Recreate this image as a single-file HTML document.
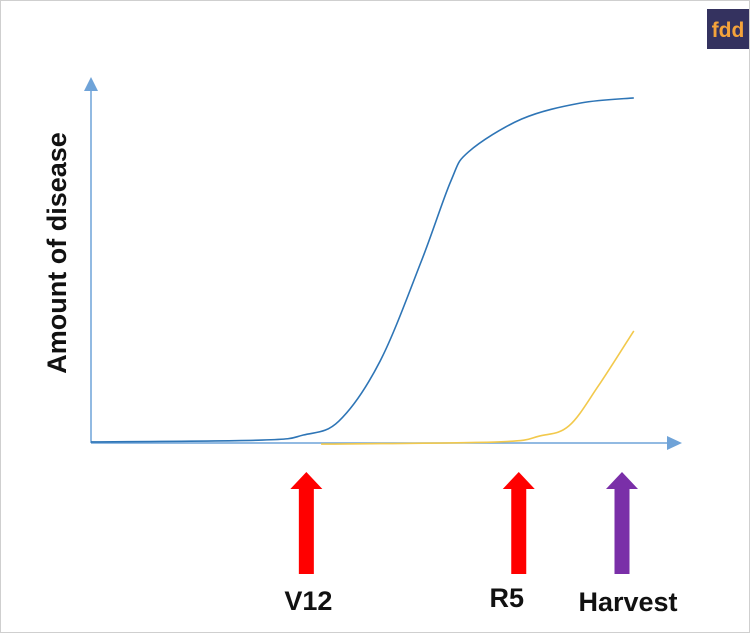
<!DOCTYPE html>
<html><head><meta charset="utf-8"><style>
html,body{margin:0;padding:0;background:#fff}
#wrap{position:relative;width:750px;height:633px;overflow:hidden;box-sizing:border-box;border:1px solid #cfcfcf}
text{font-family:"Liberation Sans",Arial,sans-serif}
</style></head><body>
<div id="wrap">
<svg id="chart" width="750" height="633" style="position:absolute;left:0;top:0">
  <rect x="706" y="8" width="44" height="40" fill="#34325f"/>
  <text x="727" y="36" text-anchor="middle" font-size="21" font-weight="bold" fill="#f5a33a">fdd</text>
  <line x1="90" y1="442" x2="90" y2="86" stroke="#6fa3d8" stroke-width="1.5"/>
  <polygon points="83,90 90,76 97,90" fill="#6fa3d8"/>
  <line x1="90" y1="442" x2="670" y2="442" stroke="#6fa3d8" stroke-width="1.5"/>
  <polygon points="666,435 681,442 666,449" fill="#6fa3d8"/>
  <text transform="translate(65,252) rotate(-90)" text-anchor="middle" font-size="27" font-weight="bold" fill="#111">Amount of disease</text>
  <g id="series"></g>
  <g id="markers"></g>
</svg>
</div>
<script>
const blueX=[0,29,36,42,49,56,61,64,73,83,92];
const blueY=[0.3,0.8,2.2,6,22.5,50,72,80,89,93.4,94.8];
const yellowX=[39,69,76,81,86,92];
const yellowY=[-0.3,0.3,1.9,4.7,15.7,30.8];
const stageLabels=["V12","R5","Harvest"];
const stageX=[36.5,72.5,90];
const stageColors=["#ff0000","#ff0000","#7a2fa8"];
const NS="http://www.w3.org/2000/svg";
const sx=v=>90+v*5.9;
const sy=v=>442-v*3.64;
function path(xs,ys){
  const p=xs.map((x,i)=>[sx(x),sy(ys[i])]);
  let d="M"+p[0][0]+","+p[0][1];
  for(let i=0;i<p.length-1;i++){
    const p0=p[i-1]||p[i],p1=p[i],p2=p[i+1],p3=p[i+2]||p2;
    const c1=[p1[0]+(p2[0]-p0[0])/6,p1[1]+(p2[1]-p0[1])/6];
    const c2=[p2[0]-(p3[0]-p1[0])/6,p2[1]-(p3[1]-p1[1])/6];
    d+=` C${c1[0]},${c1[1]} ${c2[0]},${c2[1]} ${p2[0]},${p2[1]}`;
  }
  return d;
}
const g=document.getElementById("series");
let pb=document.createElementNS(NS,"path");
pb.setAttribute("d",path(blueX,blueY));pb.setAttribute("fill","none");pb.setAttribute("stroke","#2e75b6");pb.setAttribute("stroke-width","1.6");


g.appendChild(pb);
let py=document.createElementNS(NS,"path");
py.setAttribute("d",path(yellowX,yellowY));py.setAttribute("fill","none");py.setAttribute("stroke","#f2c94c");py.setAttribute("stroke-width","1.6");


g.appendChild(py);
const m=document.getElementById("markers");
const labelDx=[2,-12,6];
const labelY=[609,606,610];
stageLabels.forEach((lab,i)=>{
  const cx=sx(stageX[i]);
  const a=document.createElementNS(NS,"polygon");
  a.setAttribute("points",`${cx-7.5},573 ${cx-7.5},488 ${cx-16},488 ${cx},471 ${cx+16},488 ${cx+7.5},488 ${cx+7.5},573`);
  a.setAttribute("fill",stageColors[i]);
  
  
  m.appendChild(a);
  const t=document.createElementNS(NS,"text");
  t.setAttribute("x",cx+labelDx[i]);t.setAttribute("y",labelY[i]);t.setAttribute("text-anchor","middle");
  t.setAttribute("font-size","27");t.setAttribute("font-weight","bold");t.setAttribute("fill","#111");
  t.textContent=lab;
  
  
  m.appendChild(t);
});
</script>
</body></html>
